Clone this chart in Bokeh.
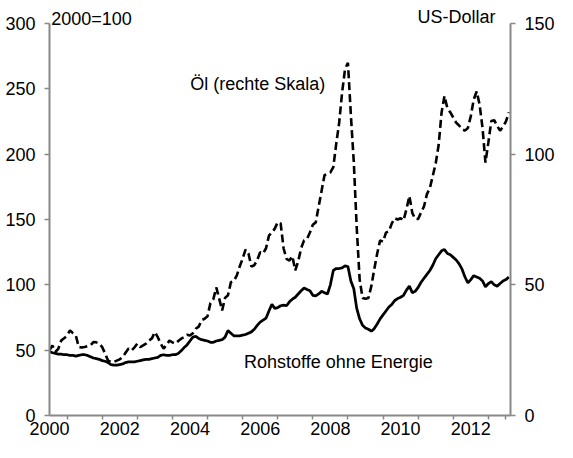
from bokeh.plotting import figure
from bokeh.models import Range1d, LinearAxis, FixedTicker, Label
from bokeh.embed import file_html
from bokeh.resources import INLINE

# Monthly data, Jan 2000 .. Feb 2013
start_year = 2000
rohstoffe = [
    49, 48, 47.5, 47, 47, 46.5, 46.5, 46, 46, 45.5, 46, 46.5,          # 2000
    46.5, 46, 45, 44, 43.5, 43, 42, 41.5, 40.5, 39, 38.5, 38.5,        # 2001
    39, 39.5, 40.5, 41, 41, 41, 41.5, 42, 42.5, 43, 43, 43.5,          # 2002
    44, 44.5, 46, 46.5, 46, 46, 46.5, 46.5, 47.5, 49.5, 52, 54,        # 2003
    57, 60, 60.5, 59, 58, 57.5, 57, 56, 56, 57, 57.5, 58,              # 2004
    60, 65, 63, 61, 61, 61, 61.5, 62, 63, 64, 66, 69,                  # 2005
    71.5, 73, 74.5, 80, 85, 82, 82.5, 84, 84.5, 84, 87, 89,            # 2006
    90.5, 93, 95.5, 97.5, 96.5, 95.5, 92, 91.5, 93, 95, 94, 93,        # 2007
    100, 111, 112.5, 112.5, 113, 114.5, 114, 103, 97, 82, 74, 69,      # 2008
    67, 66, 64.5, 66.5, 70, 74, 77, 80, 83, 85, 88, 89.5,              # 2009
    90.5, 92, 96, 99, 94, 95, 98, 102, 105, 108, 111, 115,             # 2010
    120, 123, 126, 127, 124, 123, 121, 119, 116, 112, 106, 101.5,      # 2011
    104, 107, 106, 105, 103, 98.5, 101, 102.5, 100, 99, 101, 103,      # 2012
    104, 106,                                                           # 2013
]
oel = [
    25, 26.8, 24.3, 25.5, 28.7, 29.6, 30.5, 32.6, 31.5, 30.6, 26.2, 26,      # 2000
    26.2, 26.5, 26.8, 28.1, 28, 27.5, 26.2, 23.7, 21, 20.5, 20.5, 21,        # 2001
    21.5, 22.4, 24, 25.6, 24.9, 26, 27.5, 26.2, 26.8, 27.5, 28.7, 29.5,      # 2002
    31.9, 30, 27.5, 25.6, 27, 28.7, 28, 27.5, 28.5, 29.4, 30, 30.9,          # 2003
    30.6, 31.5, 33.2, 34, 36.5, 37, 38, 43, 44.5, 49, 44.7, 40.2,            # 2004
    45, 46, 51, 51.5, 53.5, 57, 60, 63.5, 62, 57, 57.5, 59.5,                # 2005
    62.5, 62, 64, 68.8, 70, 71.5, 74, 73.5, 64, 59.9, 59.3, 61,              # 2006
    55.5, 59, 64, 67, 67.5, 70, 73, 73.9, 80, 86, 92, 92.5,                  # 2007
    93, 95, 104, 112, 123.5, 132.5, 135, 115, 97, 72, 52, 45,                # 2008
    44.7, 45, 49.5, 56, 62, 67, 66.5, 70, 70.5, 73.5, 75.5, 75,              # 2009
    75.5, 74.6, 79, 84, 77.5, 75.2, 75.2, 77.7, 80, 84.7, 87, 91.7,          # 2010
    96.5, 103.5, 115.9, 122.3, 117.5, 116, 114, 112, 111, 109.5, 109, 110,   # 2011
    114.6, 121, 124, 119, 110, 96.8, 104.5, 112.7, 113, 110.8, 109, 110.5,   # 2012
    112.5, 116,                                                               # 2013
]
x_label_years = [2000, 2002, 2004, 2006, 2008, 2010, 2012]
x_tick_marks = [2000.5, 2001.5, 2002.5, 2003.5, 2004.5, 2005.5, 2006.5,
                2007.5, 2008.5, 2009.5, 2010.5, 2011.5, 2012.5, 2013.0]
left_ticks = [0, 50, 100, 150, 200, 250, 300]
right_ticks = [0, 50, 100, 150]

t = [start_year + i / 12 for i in range(len(rohstoffe))]

FONT = "Liberation Sans"
FS = "18px"
AXIS_COLOR = "#888888"

# frame extends above the 300 line so texts there are not clipped;
# axes are bounded to their value ranges
TOP_EXTRA = 21 * 300 / 392

p = figure(width=557, height=442, output_backend="svg", toolbar_location=None,
           x_range=Range1d(2000, 2013.13), y_range=Range1d(0, 300 + TOP_EXTRA),
           min_border_left=49, min_border_right=46, min_border_top=2, min_border_bottom=27)
p.extra_y_ranges = {"right": Range1d(0, 150 + TOP_EXTRA / 2)}
p.outline_line_color = None
p.grid.visible = False
p.background_fill_color = "white"
p.border_fill_color = "white"

def style(ax):
    ax.axis_line_color = AXIS_COLOR
    ax.axis_line_width = 2
    ax.major_tick_line_color = AXIS_COLOR
    ax.major_tick_line_width = 1.5
    ax.minor_tick_line_color = None
    ax.major_tick_in = 0
    ax.major_tick_out = 5
    ax.major_label_text_font = FONT
    ax.major_label_text_font_size = FS
    ax.major_label_text_color = "black"
    ax.major_label_standoff = 9

# bottom axis
xa = p.xaxis[0]
xa.ticker = FixedTicker(ticks=x_label_years, minor_ticks=x_tick_marks)
style(xa)
xa.major_tick_out = 0
xa.minor_tick_line_color = AXIS_COLOR
xa.minor_tick_line_width = 1.5
xa.minor_tick_in = 0
xa.minor_tick_out = 4
xa.major_label_standoff = 2

# left axis
ya = p.yaxis[0]
ya.ticker = FixedTicker(ticks=left_ticks)
ya.bounds = (0, 300)
style(ya)

# right axis
ra = LinearAxis(y_range_name="right", ticker=FixedTicker(ticks=right_ticks), bounds=(0, 150))
style(ra)
p.add_layout(ra, "right")

p.line(t, rohstoffe, line_color="black", line_width=2.75)
p.line(t, oel, line_color="black", line_width=2.6, line_dash="8 4", y_range_name="right")

lbl = dict(text_font=FONT, text_font_size=FS, text_color="black", text_baseline="alphabetic")
p.add_layout(Label(x=2000.05, y=303.6, text="2000=100", **lbl))
p.add_layout(Label(x=2012.70, y=305.2, text="US-Dollar", text_align="right", **lbl))
p.add_layout(Label(x=2004.01, y=253.4, text="Öl (rechte Skala)", **lbl))
p.add_layout(Label(x=2005.54, y=41.2, text="Rohstoffe ohne Energie", **lbl))

open("out.html", "w").write(file_html(p, INLINE))
